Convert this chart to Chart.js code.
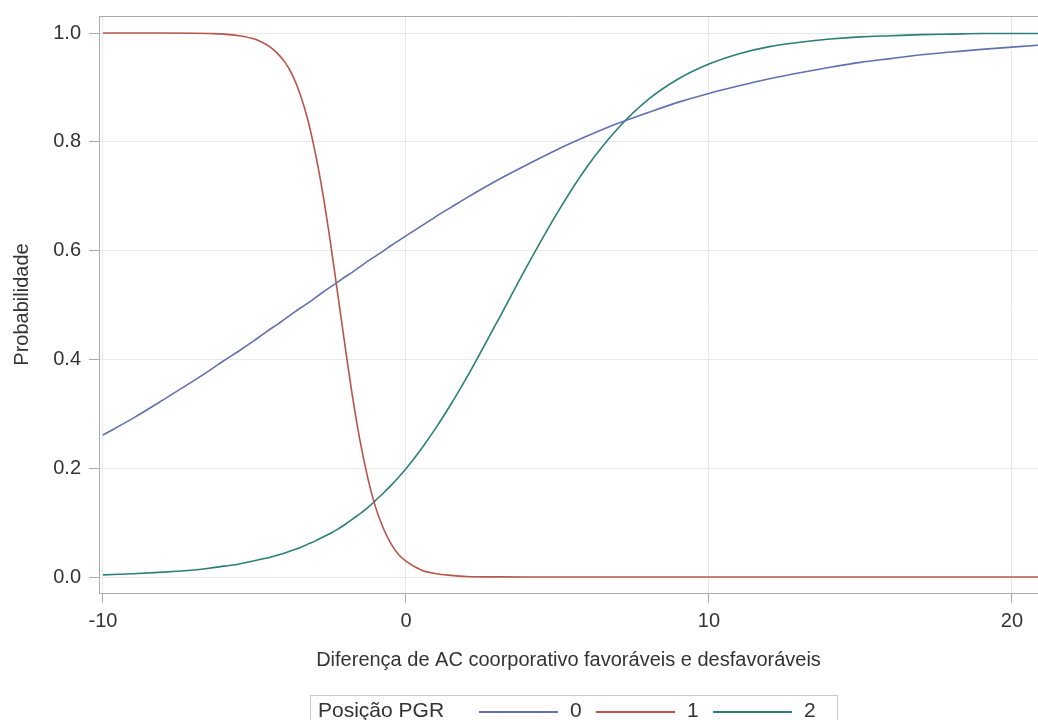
<!DOCTYPE html>
<html>
<head>
<meta charset="utf-8">
<script src="https://cdn.jsdelivr.net/npm/chart.js@4/dist/chart.umd.min.js"></script>
<style>
    html, body { margin: 0; padding: 0; background: #fff; overflow: hidden; }
    #wrap { position: relative; width: 1038px; height: 720px; }
    #legend { position: absolute; left: 310px; top: 695px; width: 528px; height: 40px; border: 1px solid #c8c8c8; box-sizing: border-box;
              font: 21px 'Liberation Sans', Arial, sans-serif; color: #333; }
    #legend span { position: absolute; top: 2px; white-space: nowrap; }
    #legend i { position: absolute; top: 15px; height: 2px; width: 79px; }
</style>
</head>
<body>
<div id="wrap">
    <canvas id="probChart" width="1038" height="720"></canvas>
    <div id="legend"></div>
</div>
<script>
(function () {
    'use strict';

    const xs = [-10, -9, -8, -7, -6.5, -6, -5.5, -5, -4.75, -4.5, -4.25, -4, -3.75, -3.5, -3.25, -3, -2.75, -2.5, -2.25, -2, -1.75, -1.5, -1.25,
                -1, -0.75, -0.5, -0.25, 0, 0.5, 1, 1.5, 2, 3, 4, 5, 6, 7, 8, 9, 10, 11, 12, 13, 14, 15, 16, 17, 18, 19, 20, 21];

    // Posição PGR = 0
    const prob0 = [0.261, 0.292, 0.326, 0.361, 0.379, 0.398, 0.416, 0.435, 0.445, 0.455, 0.464, 0.474, 0.484, 0.494, 0.503, 0.513, 0.523, 0.533, 0.542,
                   0.552, 0.561, 0.571, 0.581, 0.590, 0.599, 0.609, 0.618, 0.627, 0.645, 0.663, 0.680, 0.697, 0.729, 0.758, 0.786,
                   0.811, 0.834, 0.854, 0.873, 0.889, 0.903, 0.916, 0.927, 0.937, 0.946, 0.953, 0.960, 0.965, 0.970, 0.974, 0.978];
    // Posição PGR = 1
    const prob1 = [1.000, 1.000, 1.000, 0.9995, 0.999, 0.998, 0.995, 0.989, 0.983, 0.975, 0.963, 0.947, 0.923, 0.889, 0.843, 0.782, 0.707, 0.618, 0.520,
                   0.421, 0.327, 0.246, 0.180, 0.128, 0.090, 0.062, 0.042, 0.029, 0.013, 0.006, 0.003, 0.001, 0.0002, 0, 0,
                   0, 0, 0, 0, 0, 0, 0, 0, 0, 0, 0, 0, 0, 0, 0, 0];
    // Posição PGR = 2
    const prob2 = [0.004, 0.006, 0.009, 0.013, 0.016, 0.020, 0.024, 0.030, 0.033, 0.036, 0.040, 0.044, 0.049, 0.054, 0.060, 0.066, 0.073, 0.080, 0.088,
                   0.097, 0.107, 0.117, 0.128, 0.141, 0.154, 0.168, 0.183, 0.199, 0.235, 0.275, 0.319, 0.366, 0.468, 0.572, 0.670,
                   0.756, 0.825, 0.878, 0.916, 0.943, 0.962, 0.975, 0.983, 0.989, 0.993, 0.995, 0.997, 0.998, 0.999, 0.999, 0.999];

    const seriesNames = ['0', '1', '2'];
    const seriesColors = ['#6170b0', '#b8544a', '#2a8077'];
    const xTicks = [-10, 0, 10, 20];
    const yTicks = [0, 0.2, 0.4, 0.6, 0.8, 1.0];

    const FONT = "'Liberation Sans', Arial, sans-serif";
    const frameColor = '#a8acb0';

    const frameTop = {
        id: 'frameTop',
        afterDraw(chart) {
            const { ctx, chartArea: a } = chart;
            ctx.save();
            ctx.strokeStyle = frameColor;
            ctx.lineWidth = 1;
            ctx.beginPath();
            ctx.moveTo(a.left, a.top + 0.5);
            ctx.lineTo(a.right, a.top + 0.5);
            ctx.stroke();
            ctx.restore();
        }
    };

    const series = [prob0, prob1, prob2];

    new Chart(document.getElementById('probChart'), {
        type: 'line',
        data: {
            datasets: series.map((s, k) => ({
                label: seriesNames[k],
                data: xs.map((x, i) => ({ x: x, y: s[i] })),
                borderColor: seriesColors[k],
                borderWidth: 1.6,
                pointRadius: 0,
                fill: false,
                cubicInterpolationMode: 'monotone'
            }))
        },
        options: {
            responsive: false,
            animation: false,
            layout: { padding: { top: 16, left: 0, right: 0, bottom: 48 } },
            plugins: { legend: { display: false }, tooltip: { enabled: false } },
            scales: {
                x: {
                    type: 'linear',
                    min: -10.13,
                    max: 20.86,
                    afterBuildTicks: s => { s.ticks = xTicks.map(v => ({ value: v })); },
                    afterFit: s => { s.height = 79; s.paddingLeft = 0; s.paddingRight = 0; },
                    grid: { color: '#e8e8e8', tickColor: frameColor, tickLength: 10 },
                    border: { color: frameColor, width: 1 },
                    ticks: { font: { size: 20, family: FONT }, color: '#333', padding: 6, maxRotation: 0, callback: v => String(v) },
                    title: { display: true, text: 'Diferença de AC coorporativo favoráveis e desfavoráveis',
                             font: { size: 20, family: FONT }, color: '#333', padding: { top: 4, bottom: 0 } }
                },
                y: {
                    min: -0.0294,
                    max: 1.0313,
                    afterBuildTicks: s => { s.ticks = yTicks.map(v => ({ value: v })); },
                    afterFit: s => { s.width = 99; s.paddingTop = 0; s.paddingBottom = 0; },
                    grid: { color: '#e8e8e8', tickColor: frameColor, tickLength: 10 },
                    border: { color: frameColor, width: 1 },
                    ticks: { font: { size: 20, family: FONT }, color: '#333', padding: 8, callback: v => v.toFixed(1) },
                    title: { display: true, text: 'Probabilidade', font: { size: 20, family: FONT }, color: '#333', padding: { top: 10, bottom: 0 } }
                }
            }
        },
        plugins: [frameTop]
    });

    // legend box under the axis
    const lg = document.getElementById('legend');
    lg.innerHTML = '<span style="left:7px">Posição PGR</span>' + seriesNames.map((n, k) => {
        const x0 = 168 + k * 117;
        return `<i style="left:${x0}px;background:${seriesColors[k]}"></i><span style="left:${x0 + 91}px">${n}</span>`;
    }).join('');
})();
</script>
</body>
</html>
